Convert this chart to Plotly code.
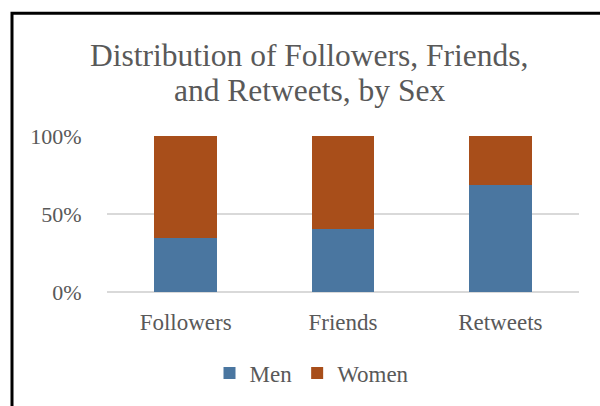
import plotly.graph_objects as go

# Share of each metric by sex (percent)
categories = ["Followers", "Friends", "Retweets"]
men_share = [34.4, 40.6, 68.7]
women_share = [65.6, 59.4, 31.3]
y_ticks = [0, 50, 100]
y_tick_labels = ["0%", "50%", "100%"]
title_lines = ["Distribution of Followers, Friends,", "and Retweets, by Sex"]

MEN_COLOR = "#4A76A0"
WOMEN_COLOR = "#A84E1A"
TEXT_COLOR = "#595959"
GRID_COLOR = "#D9D9D9"
FONT = "Liberation Serif, Times New Roman, serif"

W, H = 600, 406
L, R, T, B = 107, 21, 136, 110
plot_w = W - L - R
plot_h = H - T - B

fig = go.Figure()
fig.add_trace(go.Bar(name="Men", x=categories, y=men_share,
                     marker=dict(color=MEN_COLOR, line=dict(width=0))))
fig.add_trace(go.Bar(name="Women", x=categories, y=women_share,
                     marker=dict(color=WOMEN_COLOR, line=dict(width=0))))


def px_x(p):
    return (p - L) / plot_w


def px_y(p):
    return (H - B - p) / plot_h


# Chart frame (left and top edges)
fig.add_shape(type="path", xref="paper", yref="paper",
              path=f"M {px_x(12)} {px_y(420)} L {px_x(12)} {px_y(10)} L {px_x(620)} {px_y(10)}",
              line=dict(color="black", width=3))

# Two-line title with tight line spacing
for text, yc in zip(title_lines, [53, 89]):
    fig.add_annotation(text=text, xref="paper", yref="paper",
                       x=px_x(309), y=px_y(yc), xanchor="center", yanchor="middle",
                       showarrow=False,
                       font=dict(family=FONT, size=31.5, color=TEXT_COLOR))

fig.update_layout(
    width=W, height=H,
    margin=dict(l=L, r=R, t=T, b=B),
    paper_bgcolor="white", plot_bgcolor="white",
    barmode="stack", bargap=0.6,
    font=dict(family=FONT, color=TEXT_COLOR, size=22.5),
    showlegend=True,
    legend=dict(orientation="h", x=px_x(312), xanchor="center",
                y=px_y(379), yanchor="middle", traceorder="normal",
                font=dict(family=FONT, size=23, color=TEXT_COLOR),
                itemwidth=30, bgcolor="rgba(0,0,0,0)"),
)
fig.update_xaxes(showgrid=False, showline=False, zeroline=False,
                 ticks="outside", ticklen=9, tickcolor="rgba(0,0,0,0)",
                 tickfont=dict(family=FONT, size=23, color=TEXT_COLOR))
fig.update_yaxes(range=[0, 100], tickvals=y_ticks, ticktext=y_tick_labels,
                 showgrid=True, gridcolor=GRID_COLOR, gridwidth=1.5,
                 zeroline=True, zerolinecolor=GRID_COLOR, zerolinewidth=1.5,
                 showline=False, ticks="outside", ticklen=20,
                 tickcolor="rgba(0,0,0,0)",
                 tickfont=dict(family=FONT, size=22, color=TEXT_COLOR))

fig.write_html("out.html")
